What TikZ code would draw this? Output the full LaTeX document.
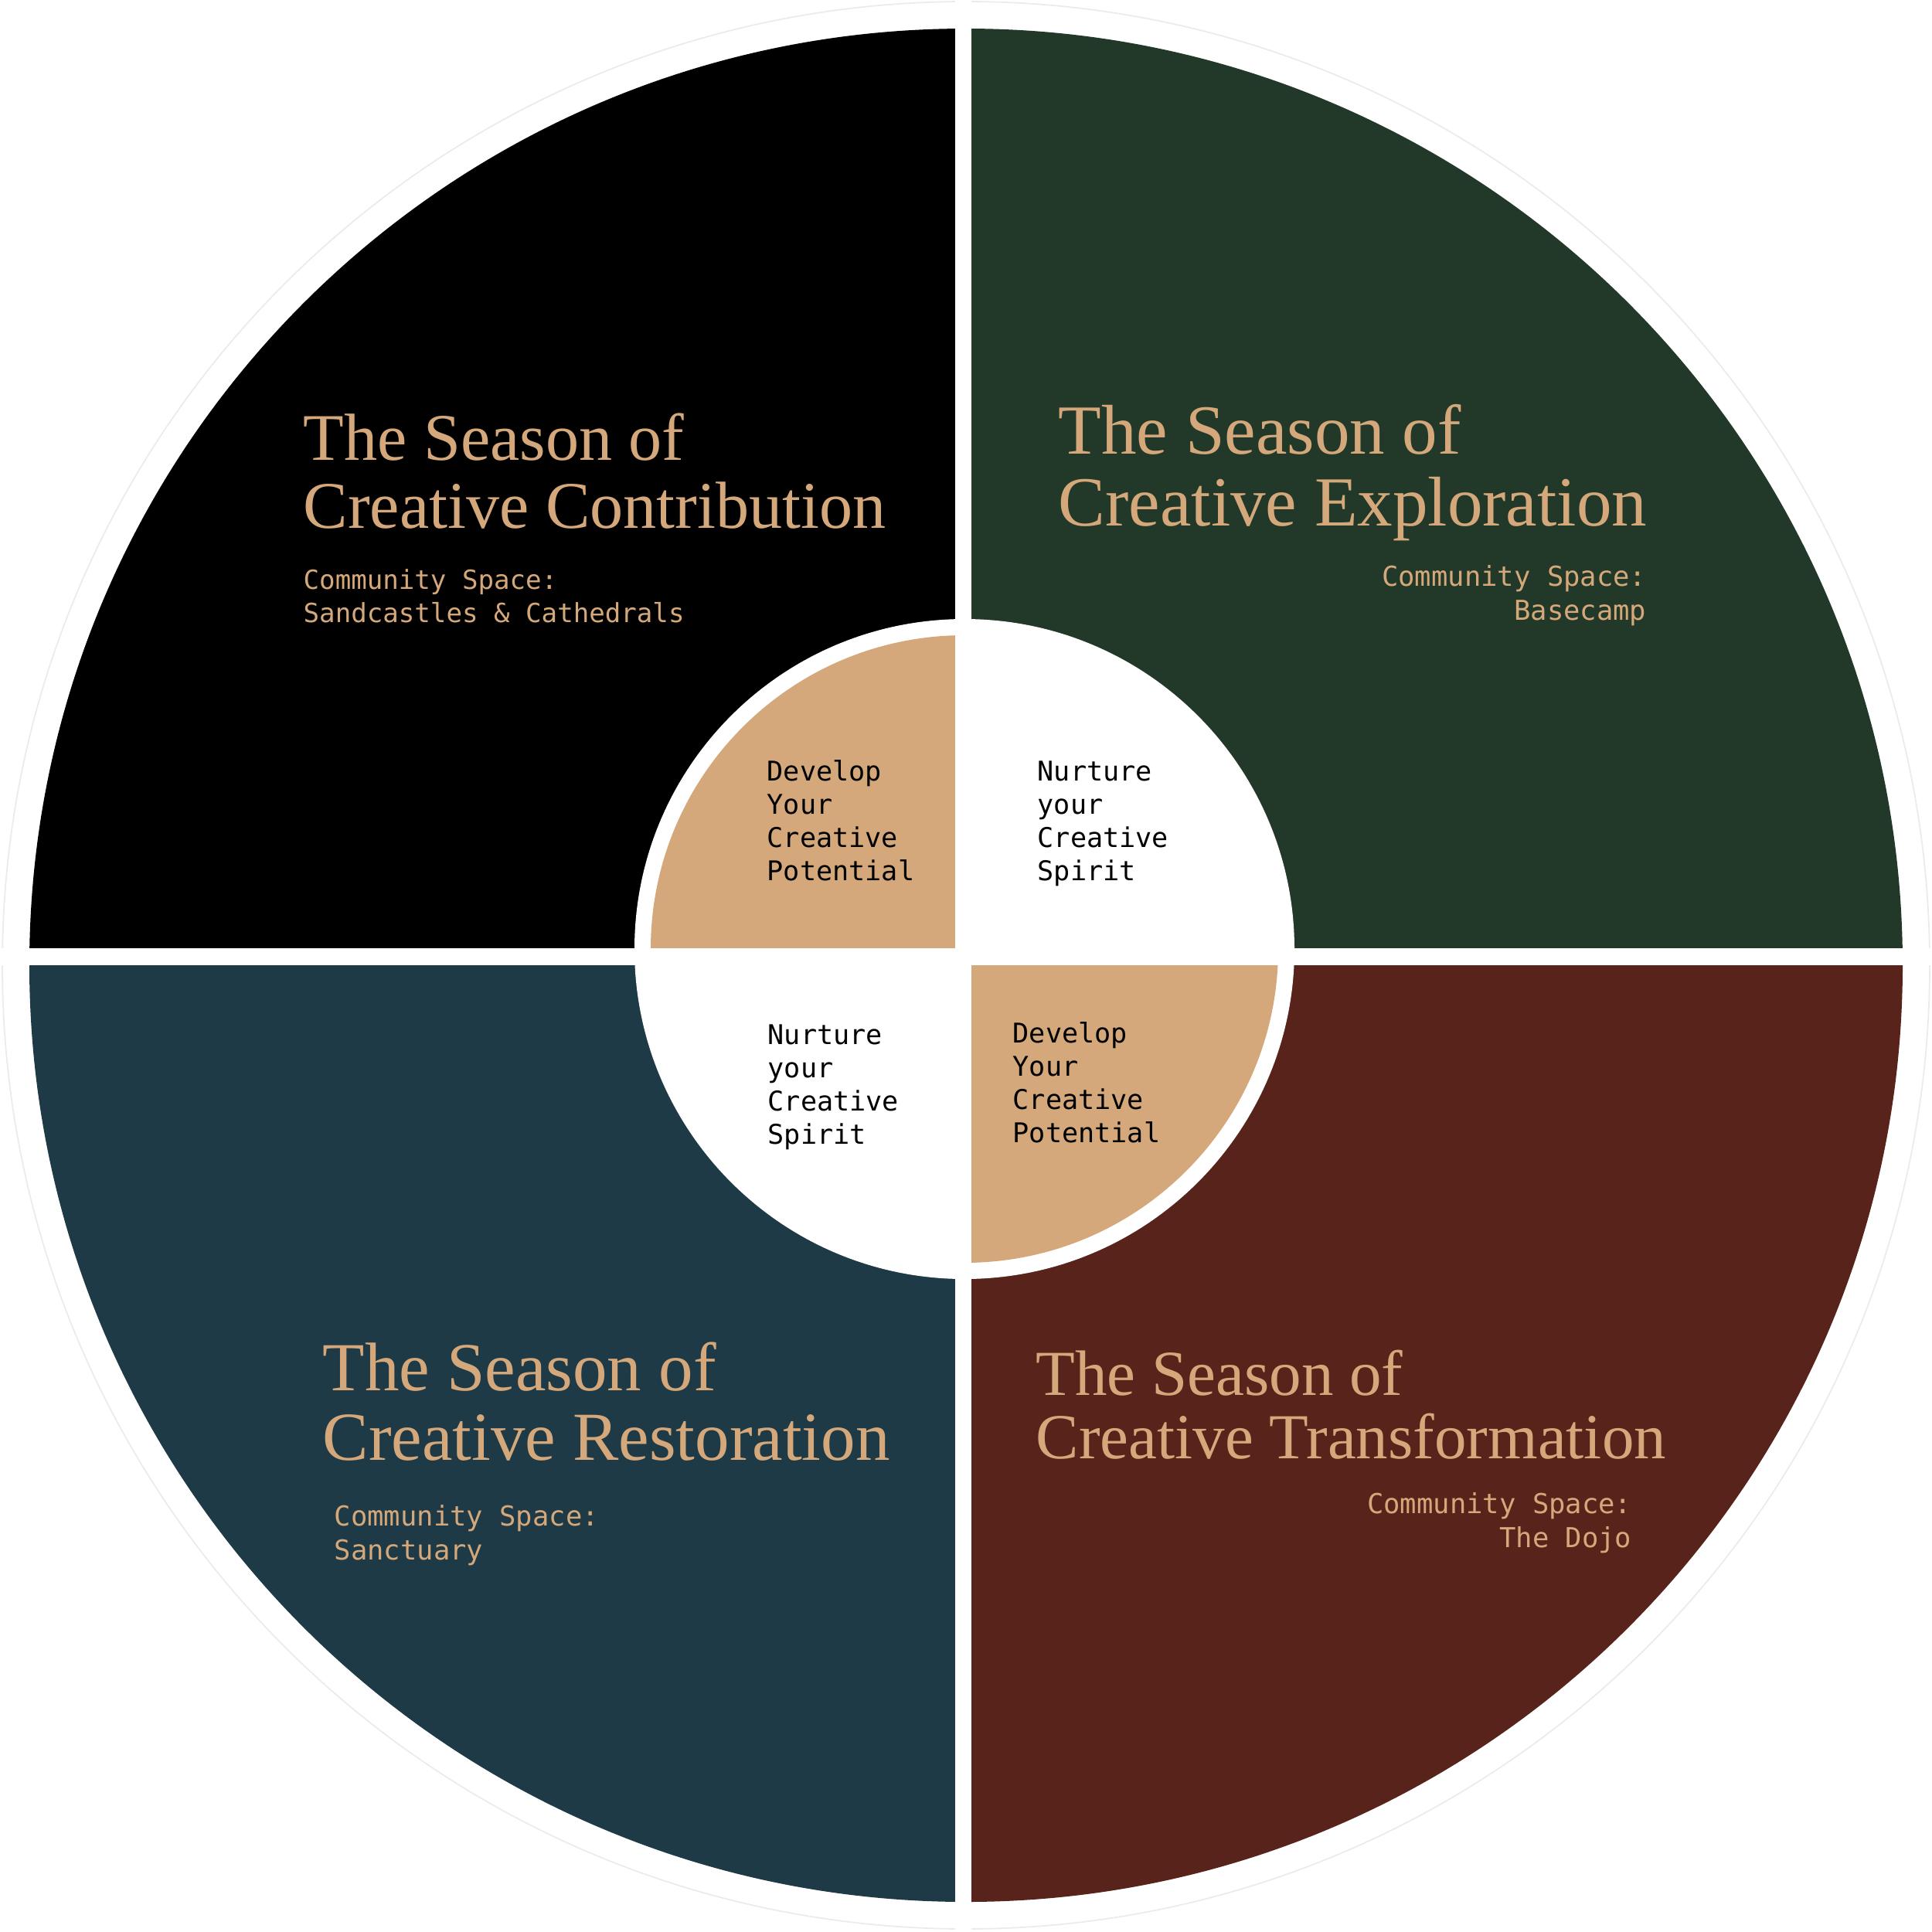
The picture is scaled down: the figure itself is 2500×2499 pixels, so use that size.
\documentclass[tikz,border=0pt]{standalone}
\usepackage{fontspec}
\setmainfont{Liberation Serif}
\setmonofont{DejaVu Sans Mono}
\usetikzlibrary{positioning}
\definecolor{seasonblack}{HTML}{000000}
\definecolor{seasongreen}{HTML}{223929}
\definecolor{seasonteal}{HTML}{1E3A46}
\definecolor{seasonbrown}{HTML}{58231A}
\definecolor{seasontan}{HTML}{D4A87A}

\begin{document}
\begin{tikzpicture}[
    x=0.01cm, y=-0.01cm,
    season_title/.style={inner sep=0pt, text=seasontan, align=left, anchor=base west},
    space_label/.style={inner sep=0pt, text=seasontan, anchor=base west, align=left, font=\ttfamily\fontsize{10.1}{12.3}\selectfont},
    space_right/.style={space_label, anchor=base east, align=right},
    center_label/.style={inner sep=0pt, text=black, anchor=base west, align=left, font=\ttfamily\fontsize{10}{12.2}\selectfont}
]
\useasboundingbox (0,0) rectangle (2500,2499);

% Outer ring
\draw[black!8, line width=0.5pt] (1250,1249) circle (1247);

% Seasons
\begin{scope}
\clip (1250,1249) circle (1212);
\fill[seasonblack] (0,0) rectangle (1246,1238);
\fill[seasongreen] (1246,0) rectangle (2500,1238);
\fill[seasonteal] (0,1238) rectangle (1246,2499);
\fill[seasonbrown] (1246,1238) rectangle (2500,2499);
\end{scope}

% Gaps
\fill[white] (1236,0) rectangle (1257,2499);
\fill[white] (0,1227) rectangle (2500,1249);

% Centre
\fill[white] (1248,1228) circle (427);
\begin{scope}
\clip (1248,1228) circle (406);
\fill[seasontan] (800,800) rectangle (1236,1227);
\fill[seasontan] (1257,1249) rectangle (1700,1700);
\end{scope}

% Titles (anchored on the last line)
\node[season_title, font=\fontsize{24.5}{24.75}\selectfont] (contribution) at (392,683) {The Season of\\Creative Contribution};
\node[season_title, font=\fontsize{25.9}{26.2}\selectfont] (exploration) at (1369,680) {The Season of\\Creative Exploration};
\node[season_title, font=\fontsize{25.3}{25.6}\selectfont] (restoration) at (417,1889) {The Season of\\Creative Restoration};
\node[season_title, font=\fontsize{23.6}{23.3}\selectfont] (transformation) at (1340,1887) {The Season of\\Creative Transformation};

% Community spaces
\node[space_label, font=\ttfamily\fontsize{9.7}{11.95}\selectfont] (sandcastles) at (392,805) {Community Space:\\Sandcastles \& Cathedrals};
\node[space_right] (basecamp) at (2131,802) {Community Space:\\Basecamp};
\node[space_label] (sanctuary) at (432,2018) {Community Space:\\Sanctuary};
\node[space_right] (dojo) at (2112,2002) {Community Space:\\The Dojo};

% Inner labels
\node[center_label] (develop_a) at (992,1139) {Develop\\Your\\Creative\\Potential};
\node[center_label] (nurture_a) at (1342,1139) {Nurture\\your\\Creative\\Spirit};
\node[center_label] (nurture_b) at (993,1480) {Nurture\\your\\Creative\\Spirit};
\node[center_label] (develop_b) at (1310,1478) {Develop\\Your\\Creative\\Potential};

\end{tikzpicture}
\end{document}
